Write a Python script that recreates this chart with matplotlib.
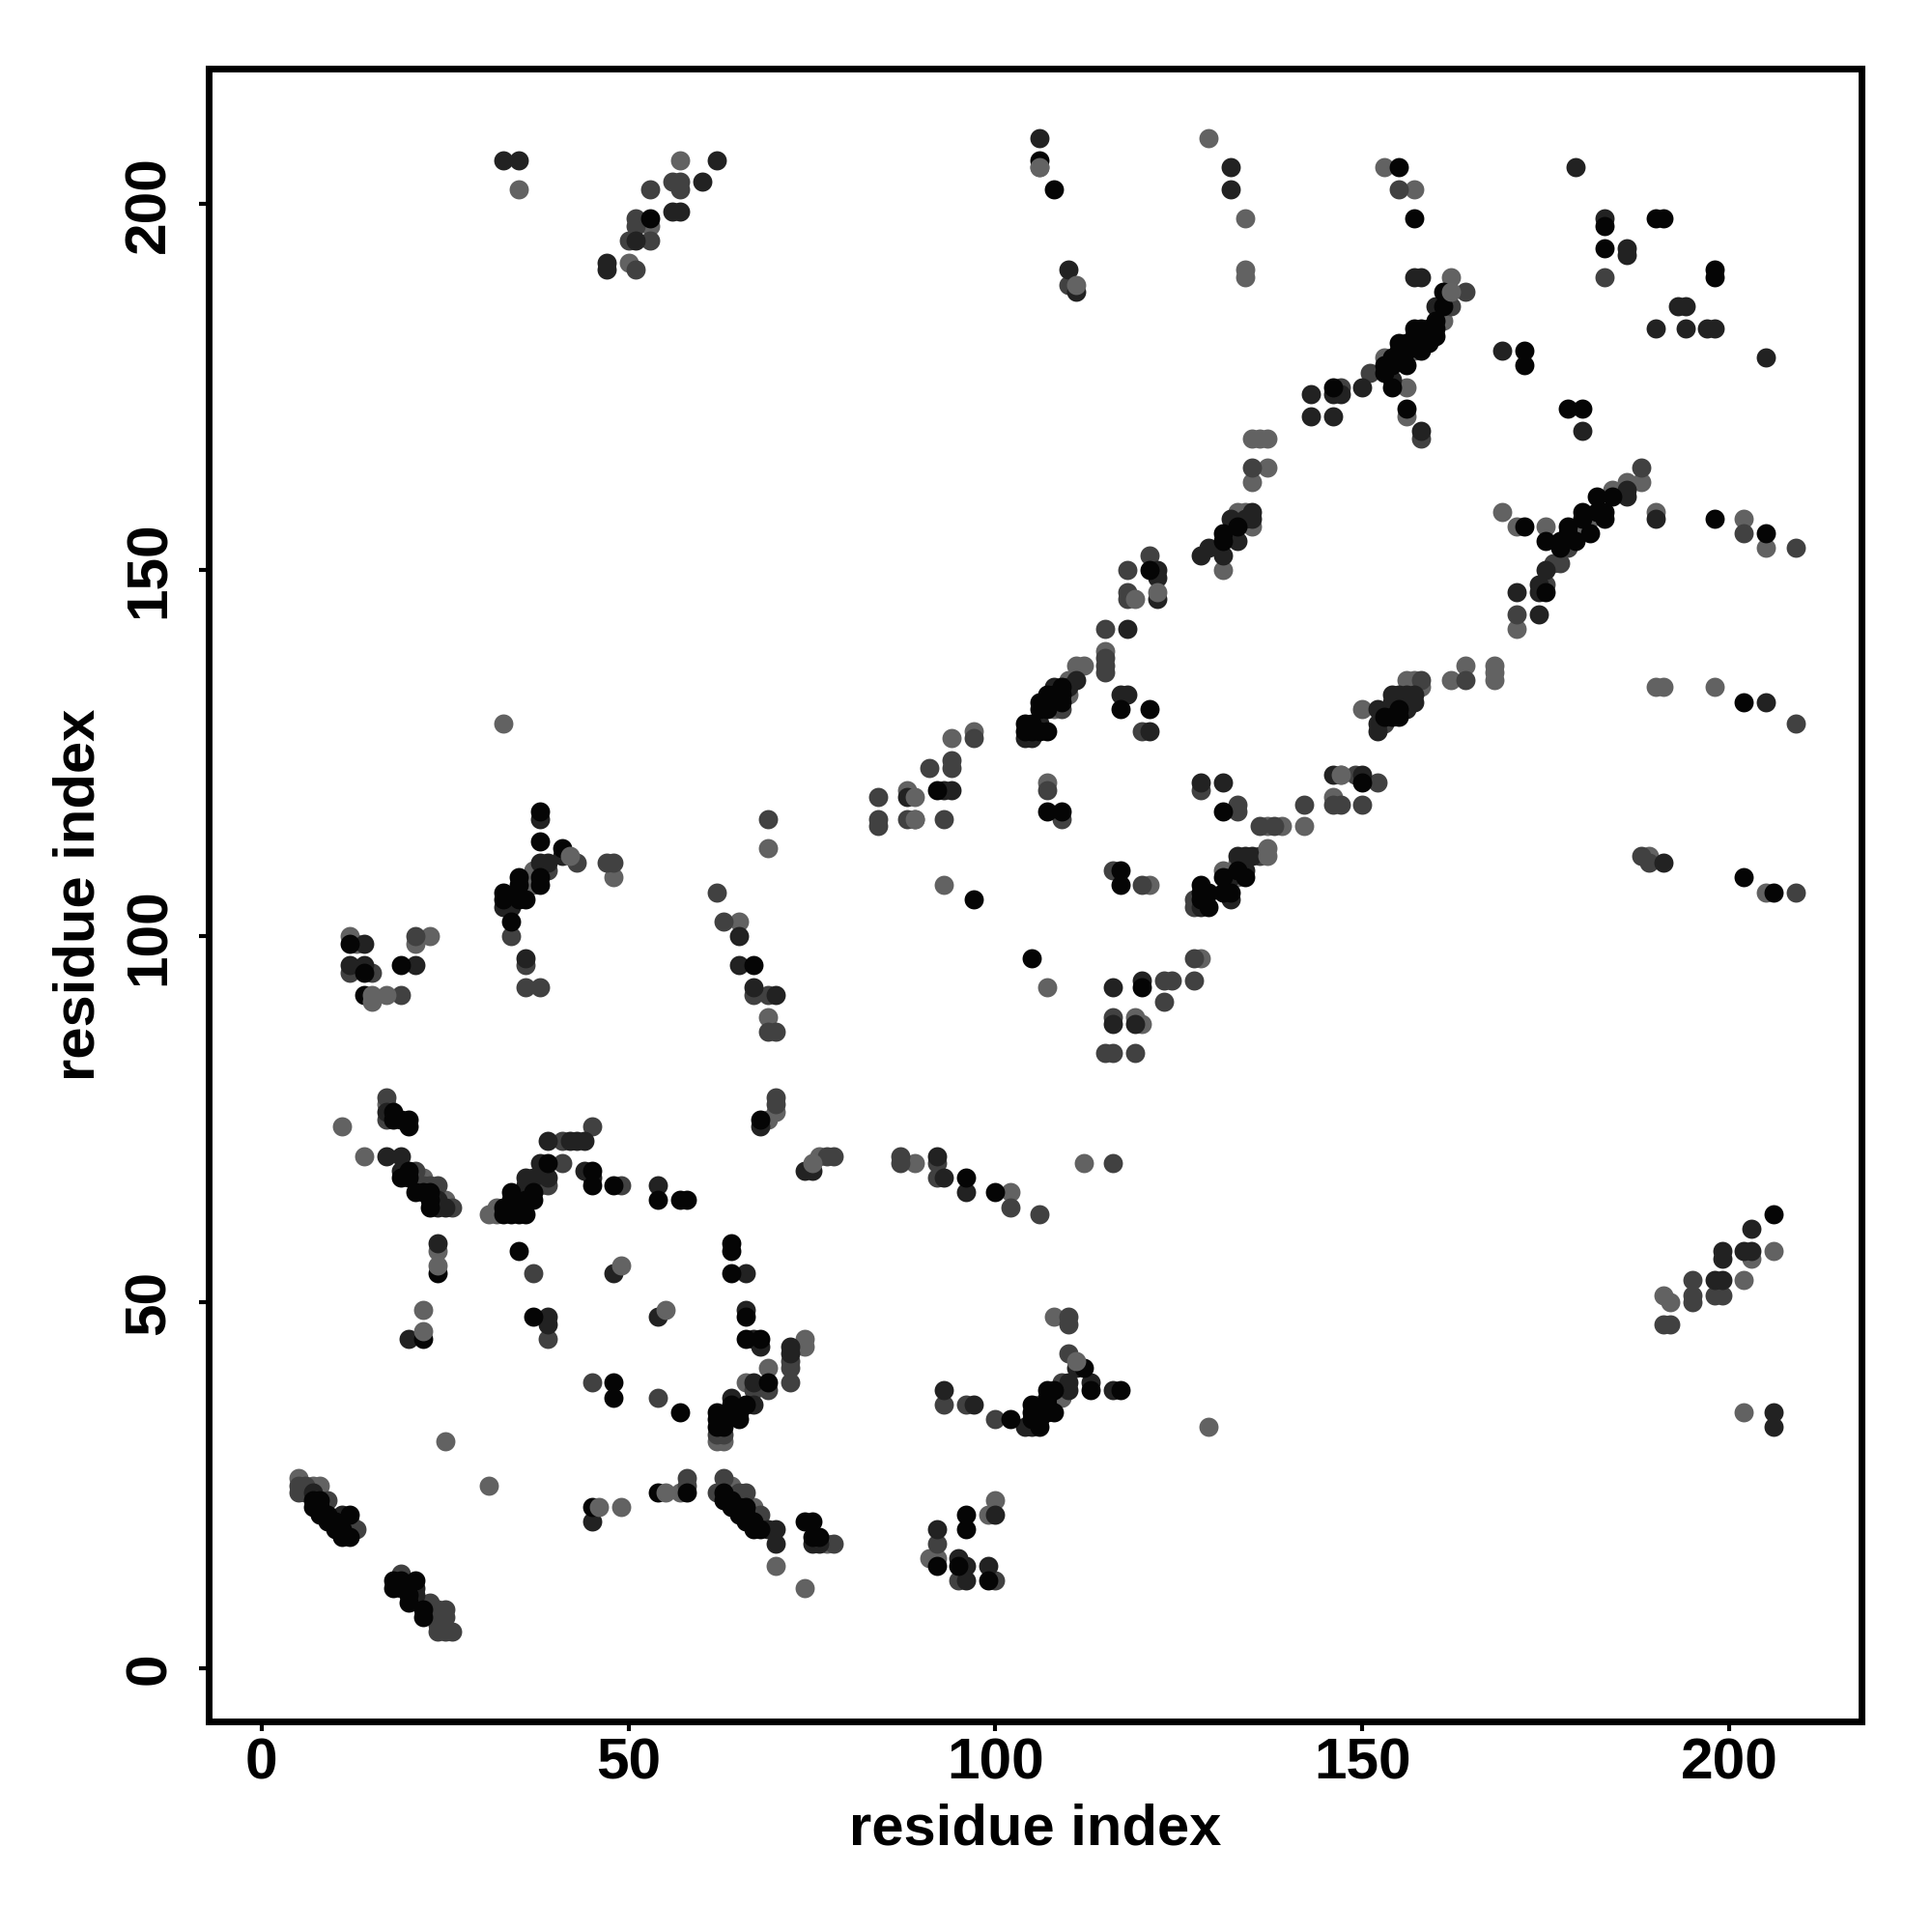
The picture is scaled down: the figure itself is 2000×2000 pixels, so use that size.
import matplotlib
matplotlib.use("Agg")
import matplotlib.pyplot as plt

# contacts as (residue, residue), grouped by how dark the dot is
gray_under = [(5,26),(7,25),(8,25),(12,20),(12,100),(13,99),(21,99),(23,100),(11,74),(14,70),(17,77),
    (22,67),(25,64),(31,62),(32,62),(32,63),(36,65),(38,66),(25,31),(31,25),(24,57),(22,49),(62,31),(63,31),(64,25),
    (67,22),(66,39),(69,41),(49,22),(57,24),(70,14),(74,11),(77,17),(91,15),(92,15),(99,21),(100,23),
    (108,48),(109,37),(129,33),(74,45),(74,44),(106,36),(37,109),(37,107),(48,108),(33,129),(65,102),
    (69,112),(69,89),(69,75),(70,76),(76,70),(89,69),(102,65),(112,69),(107,93),(93,107),(88,120),(97,128),
    (107,121),(121,107),(128,97),(120,88),(119,89),(131,109),(137,115),(139,115),(142,115),(146,119),
    (147,122),(150,131),(156,135),(157,135),(158,134),(162,135),(164,137),(168,137),(168,136),(168,135),
    (190,134),(191,134),(198,134),(189,111),(205,106),(171,142),(171,156),(169,158),(175,156),(179,155),
    (184,161),(186,162),(188,162),(190,158),(202,157),(205,153),(106,205),(129,209),(134,198),(134,191),
    (134,190),(153,205),(157,202),(162,190),(156,171),(156,175),(153,179),(135,168),(136,168),(137,168),
    (137,164),(135,162),(131,150),(133,158),(134,158),(135,156),(112,137),(111,137),(115,139),(35,202),
    (50,192),(53,197),(57,206),(206,57),(203,56),(202,53),(191,51),(192,50),(202,35),(94,127),
    (110,135),(110,133),(108,132),(108,131),(133,110),(133,108),(157,181),(157,180),(161,184),(180,157),(181,157)]

mid = [(5,25),(5,24),(6,25),(6,24),(9,23),(13,19),(19,13),(23,9),(24,8),(25,8),(24,7),(25,7),(24,5),(25,5),
    (26,5),(24,6),(45,39),(54,37),(37,54),(39,45),(58,25),(58,26),(63,26),(62,24),(65,24),(66,24),(68,21),
    (78,17),(92,17),(95,12),(100,12),(93,36),(96,36),(100,34),(110,48),(110,47),(110,43),(109,39),(72,42),
    (72,41),(69,38),(67,38),(17,78),(17,75),(21,68),(24,66),(26,63),(39,66),(41,69),(45,74),(41,72),(49,66),
    (39,109),(43,110),(47,110),(48,110),(34,100),(36,96),(36,93),(38,93),(12,95),(15,95),(19,92),(21,100),
    (62,106),(63,102),(67,92),(69,92),(69,87),(70,87),(69,116),(70,78),(70,77),(77,70),(78,70),(87,70),(87,69),
    (92,69),(92,67),(102,63),(106,62),(116,69),(84,119),(84,116),(84,115),(88,116),(89,116),(91,123),(93,116),
    (94,124),(94,123),(97,127),(120,128),(107,120),(109,116),(116,109),(120,107),(128,120),(133,118),(133,117),
    (127,105),(127,104),(127,97),(127,94),(123,94),(124,94),(123,91),(116,89),(115,84),(116,84),(119,84),
    (136,115),(138,115),(142,118),(146,118),(147,118),(150,118),(149,122),(152,121),(153,129),(158,135),
    (164,135),(209,129),(188,111),(189,110),(209,106),(171,144),(175,148),(177,151),(176,151),(188,164),
    (202,155),(209,153),(110,189),(155,202),(164,188),(162,186),(151,177),(147,175),(158,168),(135,164),
    (121,152),(118,150),(118,147),(118,146),(115,142),(115,138),(115,137),(115,136),(183,190),(50,195),
    (53,195),(51,198),(51,197),(53,202),(56,203),(57,203),(57,202),(51,191),(195,53),(195,51),(195,50),
    (198,51),(199,51),(191,47),(192,47),(72,39),(62,32),(63,32),(22,66),(23,66),(136,111),(178,153),(109,131)]

dark = [(7,24),(11,21),(21,11),(21,10),(19,11),(45,20),(66,54),(66,49),(67,45),(68,44),(72,44),(72,43),(92,19),
    (96,14),(96,12),(95,15),(100,21),(99,14),(93,38),(97,36),(104,33),(105,33),(110,39),(110,38),(111,41),
    (113,39),(116,38),(64,37),(67,39),(67,36),(20,45),(39,48),(39,47),(48,54),(54,48),(24,58),(17,76),(17,70),
    (19,70),(19,68),(24,63),(25,63),(36,67),(36,66),(38,69),(39,67),(39,72),(42,72),(43,72),(44,72),(44,68),
    (45,67),(54,66),(38,116),(41,111),(38,110),(39,110),(33,104),(34,104),(36,97),(12,96),(14,99),(14,96),(21,96),
    (65,100),(65,96),(67,93),(70,92),(68,74),(74,68),(75,68),(92,70),(93,67),(96,65),(94,120),(88,119),(93,120),
    (104,127),(105,127),(108,134),(111,135),(117,133),(118,133),(121,128),(128,121),(128,104),
    (131,121),(132,105),(134,111),(135,111),(146,174),(147,174),(152,131),(152,129),(152,128),(154,133),(154,131),
    (157,132),(156,133),(157,133),(155,132),(146,122),(150,122),(205,132),(191,110),(171,147),(174,144),(174,148),
    (174,147),(175,150),(186,160),(186,161),(190,157),(106,209),(110,191),(111,188),(132,205),(132,202),(179,205),
    (157,190),(160,186),(158,190),(143,174),(143,171),(146,171),(150,175),(158,169),(169,180),(180,169),(129,153),
    (128,152),(131,152),(132,157),(135,158),(134,157),(135,157),(133,154),(132,155),(122,150),(122,149),(122,146),
    (118,142),(183,198),(186,194),(186,193),(193,186),(194,186),(190,183),(194,183),(197,183),(198,183),(205,179),
    (33,206),(35,206),(47,192),(47,191),(51,195),(56,199),(57,199),(60,203),(62,206),(203,60),(199,57),(199,56),
    (202,57),(203,57),(198,53),(199,53),(206,35),(206,33),(116,93),(120,94),(116,88),(119,88),(70,19),(70,17),(69,19),
    (75,17),(76,17),(37,67),(24,64),(134,109),(132,108),(133,111),(106,129),(110,134),(154,176),(155,133),(156,131),(154,132)]

black = [(7,22),(7,23),(8,23),(8,22),(8,21),(9,20),(9,21),(10,20),(10,19),(12,21),(11,18),(12,18),(11,19),(18,12),(18,11),(19,12),(21,12),
    (20,9),(20,10),(22,7),(22,8),(45,22),(54,24),(58,24),(63,24),(63,23),(64,23),(64,22),(65,22),(65,21),(66,22),(66,21),(66,20),(67,20),(67,19),(68,19),(74,20),(75,20),
    (75,18),(76,18),(92,14),(96,21),(96,19),(95,14),(99,12),(102,34),(105,36),(105,35),(105,34),(106,34),(106,33),
    (107,38),(107,37),(107,36),(107,35),(108,35),(108,38),(112,41),(113,38),(117,38),(64,58),(64,57),(64,54),(66,48),
    (66,45),(68,45),(69,39),(62,35),(62,34),(62,33),(63,33),(63,34),(64,36),(65,34),(65,35),(66,36),(48,39),(48,37),
    (57,35),(22,45),(37,48),(35,57),(24,54),(18,76),(18,75),(19,75),(20,75),(20,74),(19,67),(20,68),(20,67),(21,65),
    (22,65),(23,64),(23,65),(23,63),(33,63),(33,62),(34,62),(35,62),(36,62),(34,65),(34,64),(35,63),(36,64),(37,64),(37,65),(39,69),(45,68),(45,66),
    (48,66),(54,64),(57,64),(58,64),(38,117),(38,113),(41,112),(38,108),(38,107),(35,108),(35,107),(36,105),(35,105),
    (33,106),(33,105),(34,102),(12,99),(14,95),(14,92),(19,96),(67,96),(68,75),(96,67),(100,65),(92,120),(97,105),
    (105,97),(104,129),(105,129),(104,128),(105,128),(106,128),(107,128),(106,131),(106,132),(107,131),(107,133),(108,133),(109,134),(109,133),(109,132),(117,131),(121,131),
    (107,117),(109,117),(117,109),(117,107),(128,107),(128,106),(128,105),(129,106),(129,104),(131,106),(132,106),(131,108),(133,109),
    (134,108),(131,117),(155,131),(153,130),(154,130),(155,130),(150,121),(202,132),(202,108),(206,106),(175,147),(175,154),(177,154),(172,156),
    (178,156),(178,155),(177,153),(179,154),(180,158),(180,157),(181,155),(182,160),(182,158),(183,158),(183,157),
    (184,160),(198,157),(205,155),(106,206),(108,202),(155,205),(157,198),(161,188),(161,186),(160,184),(160,182),(159,183),(158,182),(158,181),(157,182),(160,183),
    (157,183),(158,183),(158,180),(155,181),(155,180),(156,180),(156,181),(156,178),(155,179),(154,179),(154,178),(153,177),(154,175),(146,175),(156,172),(172,180),(172,178),(178,172),
    (180,172),(131,155),(131,154),(133,156),(121,150),(183,197),(183,194),(190,198),(191,198),(198,191),(198,190),
    (53,198),(206,62),(120,93),(153,178),(159,181)]

# these sit on top of the dark dots in the reference
gray_top = [(22,46),(46,22),(55,24),(55,49),(49,55),(15,92),(15,91),(17,92),(24,55),(42,111),(89,119),(75,69),
    (111,42),(111,189),(137,112),(137,111),(122,147),(119,146),(89,116),(147,122),(106,205),(162,188)]

shades = [(gray_under, "#626262"), (mid, "#414141"), (dark, "#222222"), (black, "#050505"), (gray_top, "#636363")]
x_ticks = [0, 50, 100, 150, 200]
y_ticks = [0, 50, 100, 150, 200]

plt.rcParams["font.family"] = ["Liberation Sans", "DejaVu Sans"]
plt.rcParams["font.weight"] = "bold"

fig = plt.figure(figsize=(20, 20), dpi=100)
ax = fig.add_axes([216 / 2000, 1 - 1782 / 2000, (1927 - 216) / 2000, (1782 - 71) / 2000])

for points, colour in shades:
    xs = [p[0] for p in points]
    ys = [p[1] for p in points]
    ax.scatter(xs, ys, s=205, c=colour, linewidths=0, zorder=3)

ax.set_xlim(-7.2, 218)
ax.set_ylim(-7.25, 218.5)
ax.set_xticks(x_ticks)
ax.set_yticks(y_ticks)
ax.tick_params(axis="x", length=7, width=3, labelsize=43.5, pad=5)
ax.tick_params(axis="y", length=7, width=3, labelsize=43.5, pad=17)
for lab in ax.get_yticklabels():
    lab.set_rotation(90)
    lab.set_va("center")
for side in ax.spines.values():
    side.set_linewidth(5)

ax.set_xlabel("residue index", fontsize=43, fontweight="bold", labelpad=9)
ax.set_ylabel("residue index", fontsize=43, fontweight="bold", labelpad=13)

fig.savefig("out.png", dpi=100, facecolor="white")
